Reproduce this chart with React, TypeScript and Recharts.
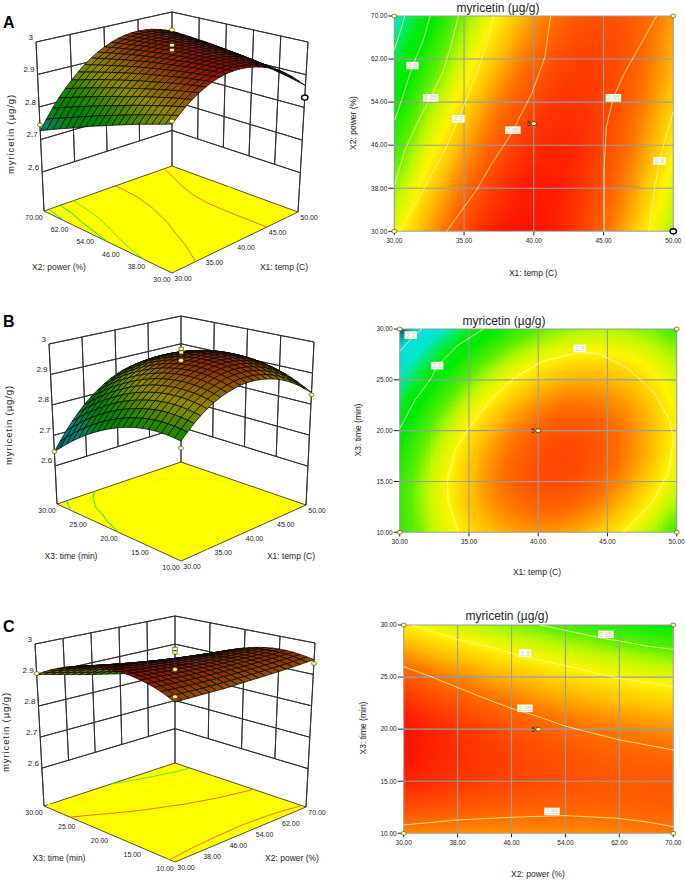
import React from 'react';
import { ScatterChart, Scatter, XAxis, YAxis } from 'recharts';

// ---------- values ----------
const tempTicks = [30, 35, 40, 45, 50];
const powerTicks = [30, 38, 46, 54, 62, 70];
const timeTicks = [10, 15, 20, 25, 30];
const responseTicks = [2.6, 2.7, 2.8, 2.9, 3];

// response estimated on a 9x9 lattice; rows run along the vertical factor, low to high
const gridTempPower = [
  [2.892, 2.934, 2.964, 2.981, 2.984, 2.974, 2.952, 2.916, 2.867],
  [2.875, 2.922, 2.955, 2.975, 2.982, 2.976, 2.957, 2.925, 2.880],
  [2.858, 2.908, 2.945, 2.969, 2.980, 2.977, 2.962, 2.933, 2.891],
  [2.839, 2.893, 2.933, 2.961, 2.975, 2.977, 2.965, 2.940, 2.902],
  [2.819, 2.876, 2.921, 2.952, 2.970, 2.975, 2.967, 2.945, 2.911],
  [2.798, 2.859, 2.907, 2.942, 2.963, 2.972, 2.967, 2.950, 2.919],
  [2.775, 2.840, 2.892, 2.930, 2.956, 2.968, 2.967, 2.953, 2.926],
  [2.752, 2.820, 2.875, 2.917, 2.946, 2.962, 2.965, 2.955, 2.931],
  [2.727, 2.799, 2.857, 2.903, 2.936, 2.956, 2.962, 2.955, 2.936],
];
const gridTempTime = [
  [2.829, 2.876, 2.910, 2.930, 2.938, 2.932, 2.914, 2.882, 2.837],
  [2.833, 2.883, 2.920, 2.943, 2.954, 2.951, 2.935, 2.906, 2.864],
  [2.830, 2.883, 2.922, 2.949, 2.962, 2.962, 2.949, 2.923, 2.884],
  [2.819, 2.874, 2.917, 2.946, 2.962, 2.965, 2.955, 2.932, 2.896],
  [2.800, 2.858, 2.904, 2.936, 2.955, 2.961, 2.954, 2.933, 2.900],
  [2.773, 2.835, 2.883, 2.918, 2.940, 2.949, 2.944, 2.927, 2.896],
  [2.739, 2.803, 2.854, 2.892, 2.917, 2.929, 2.927, 2.913, 2.885],
  [2.697, 2.764, 2.818, 2.859, 2.886, 2.901, 2.902, 2.891, 2.866],
  [2.647, 2.717, 2.774, 2.817, 2.848, 2.865, 2.870, 2.861, 2.839],
];
const gridPowerTime = [
  [2.942, 2.941, 2.940, 2.939, 2.940, 2.941, 2.942, 2.944, 2.947],
  [2.964, 2.961, 2.958, 2.956, 2.955, 2.954, 2.954, 2.955, 2.956],
  [2.978, 2.973, 2.969, 2.966, 2.963, 2.961, 2.959, 2.958, 2.958],
  [2.985, 2.978, 2.973, 2.968, 2.963, 2.960, 2.956, 2.954, 2.952],
  [2.984, 2.976, 2.969, 2.962, 2.956, 2.951, 2.946, 2.942, 2.938],
  [2.975, 2.966, 2.957, 2.949, 2.941, 2.934, 2.928, 2.922, 2.917],
  [2.959, 2.948, 2.938, 2.928, 2.919, 2.910, 2.902, 2.895, 2.889],
  [2.935, 2.922, 2.911, 2.899, 2.889, 2.879, 2.869, 2.860, 2.852],
  [2.903, 2.889, 2.876, 2.863, 2.851, 2.839, 2.828, 2.818, 2.808],
];

// contour traces: [horizontal factor, vertical factor]
const contoursTempPower = [
  { level: 2.75, pts: [[30.76, 70], [30.35, 66.5], [30, 63.7]] },
  { level: 2.8, pts: [[32.56, 70], [32.08, 65.5], [31.31, 60.8], [30.76, 56.3], [30.05, 50.7]] },
  { level: 2.85, pts: [[34.6, 70], [34.1, 64.9], [33.5, 59.7], [32.58, 54.8], [31.6, 49.8], [30.76, 45.1], [30.05, 38.9]] },
  { level: 2.9, pts: [[37.1, 70], [36.74, 65.5], [36, 60], [34.6, 50.9], [33.63, 45.1], [32.2, 38.3], [30.4, 30]] },
  { level: 2.95, pts: [[41.2, 70], [40.8, 62.4], [39.85, 55.6], [38.4, 48.2], [37, 42.6], [35.9, 37.7], [33.75, 30]] },
  { level: 2.95, pts: [[48.8, 70], [47.7, 64.9], [46.5, 59.4], [45.7, 54.8], [45.2, 49.4], [45.05, 42], [45.05, 30]] },
  { level: 2.9, pts: [[50, 52.2], [49.4, 47], [49, 43.1], [48.57, 36.4], [48.25, 30]] },
];
const contoursTempTime = [
  { level: 2.7, pts: [[31.6, 30], [30.8, 29], [30.02, 27.8]] },
  { level: 2.8, pts: [[36.04, 30], [34.2, 28.4], [32.74, 26.4], [32.2, 25], [31.1, 23], [30, 20.2]] },
  { level: 2.9, pts: [[34.24, 10], [33.5, 13.1], [33.44, 15.1], [34, 18.1], [34.96, 20.2], [36.4, 22.7], [38.09, 25], [40.25, 26.8], [42.97, 27.7], [44.34, 27.6], [46.5, 26.1], [48.4, 23.7], [49.5, 21], [49.76, 19.2], [49.4, 15.8], [48.2, 12.9], [46.15, 10]] },
];
const contoursPowerTime = [
  { level: 2.85, pts: [[50.2, 30], [53.9, 29.5], [60, 28.66], [61.8, 28.5], [65.8, 28], [70, 27.66]] },
  { level: 2.9, pts: [[31.2, 30], [38, 28.6], [43.5, 27.8], [48, 26.9], [53.9, 26.1], [61.8, 24.9], [70, 24.1]] },
  { level: 2.95, pts: [[30, 26], [34.2, 25], [38, 24], [42, 22.96], [46, 22], [50, 21.2], [53.9, 20.3], [61.8, 19], [70, 18]] },
  { level: 2.95, pts: [[30, 10.8], [38, 11.28], [46, 11.54], [53.9, 11.7], [61.8, 11.44], [65.8, 11.12], [70, 10.64]] },
];

const tagsTempPower = [
  { x: 31.3, y: 60.8, text: '2.8' }, { x: 32.6, y: 54.8, text: '2.85' }, { x: 34.6, y: 50.9, text: '2.9' },
  { x: 38.5, y: 48.8, text: '2.95' }, { x: 45.7, y: 54.8, text: '2.95' }, { x: 49, y: 43.1, text: '2.9' },
];
const tagsTempTime = [
  { x: 30.8, y: 29.4, text: '2.7' }, { x: 32.7, y: 26.4, text: '2.8' }, { x: 43, y: 28.1, text: '2.9' },
];
const tagsPowerTime = [
  { x: 60, y: 29.1, text: '2.85' }, { x: 48, y: 27.3, text: '2.9' }, { x: 48, y: 22, text: '2.95' }, { x: 52, y: 12.1, text: '2.95' },
];

// design points: horizontal factor, vertical factor, response seen on the 3D plot
const pointsTempPower = [
  { a: 30, b: 70, z: 2.745 }, { a: 50, b: 70, z: 2.94 }, { a: 30, b: 30, z: 2.9 }, { a: 50, b: 30, z: 2.83, open: true },
];
const pointsTempTime = [
  { a: 30, b: 30, z: 2.647 }, { a: 50, b: 30, z: 2.84 }, { a: 30, b: 10, z: 2.808 }, { a: 50, b: 10, z: 2.83 },
];
const pointsPowerTime = [
  { a: 30, b: 30, z: 2.905 }, { a: 70, b: 30, z: 2.81 }, { a: 30, b: 10, z: 2.957 }, { a: 70, b: 10, z: 2.935 },
];
const centerResponsesA = [3.0, 2.985];
const centerResponsesB = [2.992, 2.98];
const centerResponsesC = [2.992, 2.98];

// colour scale: response -> rgb
const scaleValues = [2.62, 2.65, 2.675, 2.69, 2.73, 2.76, 2.78, 2.81, 2.85, 2.875, 2.9, 2.925, 2.95, 2.97, 2.985];
const scaleColours = [
  [10, 60, 90], [15, 80, 100], [0, 190, 190], [0, 225, 220], [0, 230, 205], [0, 235, 100], [0, 235, 20], [0, 235, 0],
  [90, 238, 0], [190, 248, 0], [255, 245, 0], [255, 190, 0], [255, 110, 0], [255, 60, 0], [255, 15, 0],
];

// ---------- page geometry ----------
const W = 685;
const H = 880;
const FONT = '"Liberation Sans", Arial, sans-serif';

const lerp = (a: number, b: number, t: number) => a + (b - a) * t;

const rgbOf = (z: number) => {
  const n = scaleValues.length;
  if (z <= scaleValues[0]) return scaleColours[0];
  if (z >= scaleValues[n - 1]) return scaleColours[n - 1];
  let i = 0;
  while (z > scaleValues[i + 1]) i++;
  const t = (z - scaleValues[i]) / (scaleValues[i + 1] - scaleValues[i]);
  return scaleColours[i].map((c, k) => lerp(c, scaleColours[i + 1][k], t));
};
const cssOf = (c: number[], f = 1) => `rgb(${Math.round(c[0] * f)},${Math.round(c[1] * f)},${Math.round(c[2] * f)})`;

// smooth drawing between lattice values, the way a curved line joins its points
const spline = (p0: number, p1: number, p2: number, p3: number, t: number) =>
  0.5 * (2 * p1 + (p2 - p0) * t + (2 * p0 - 5 * p1 + 4 * p2 - p3) * t * t + (3 * p1 - p0 - 3 * p2 + p3) * t * t * t);
const along = (row: number[], s: number) => {
  const m = row.length - 1;
  const i = Math.min(Math.floor(s * m), m - 1);
  const t = s * m - i;
  const p1 = row[i];
  const p2 = row[i + 1];
  const p0 = i > 0 ? row[i - 1] : 2 * p1 - p2;
  const p3 = i + 2 <= m ? row[i + 2] : 2 * p2 - p1;
  return spline(p0, p1, p2, p3, t);
};
const sampleGrid = (g: number[][], u: number, v: number) => along(g.map((r) => along(r, u)), v);

type Corners = { F: number[]; L: number[]; R: number[]; B: number[] };
type Frame = { floor: Corners; top: Corners; zf: number };

const bilinear = (c: Corners, u: number, v: number) =>
  [0, 1].map((k) => (1 - u) * (1 - v) * c.F[k] + u * (1 - v) * c.R[k] + (1 - u) * v * c.L[k] + u * v * c.B[k]);
const project = (f: Frame, u: number, v: number, z: number) => {
  const a = bilinear(f.floor, u, v);
  const b = bilinear(f.top, u, v);
  const t = (z - f.zf) / (3 - f.zf);
  return [lerp(a[0], b[0], t), lerp(a[1], b[1], t)];
};

const PolyShape = (p: any) => {
  const { cx, cy, payload: d } = p;
  const pts = d.poly.map((q: number[]) => `${q[0] - d.x + cx},${q[1] - d.y + cy}`).join(' ');
  return <polygon points={pts} fill={d.fill || 'none'} stroke={d.stroke} strokeWidth={d.sw} strokeLinejoin="round" />;
};
const Nothing = () => <g />;
const Marker = (p: any) => (
  <ellipse cx={p.cx} cy={p.cy} rx={p.payload.open ? 3.2 : 2.5} ry={p.payload.open ? 2.6 : 2}
    fill={p.payload.open ? '#ffffff' : '#ffff88'} stroke={p.payload.open ? '#000' : '#333'} strokeWidth={p.payload.open ? 1.4 : 0.6} />
);
const SquareMark = (p: any) => (
  <rect x={p.cx - 2.2} y={p.cy - 1.6} width={4.4} height={3.2} fill="#ffff88" stroke="#333" strokeWidth={0.6} />
);

const anchored = (mk: { dx: number; dy: number; anchor: string; size: number; fill?: string }) => (p: any) => (
  <text x={p.cx + mk.dx} y={p.cy + mk.dy} textAnchor={mk.anchor} dominantBaseline="central"
    fontFamily={FONT} fontSize={mk.size} fill={mk.fill || '#222'}>{p.payload.text}</text>
);

type P3 = {
  frame: Frame; grid: number[][]; contours: { level: number; pts: number[][] }[];
  uDomain: number[]; vDomain: number[]; uTicks: number[]; vTicks: number[];
  points: { a: number; b: number; z: number; open?: boolean }[]; centers: number[];
  letter: string; letterY: number; uLabel: string; vLabel: string;
  uLabelX: number; vLabelX: number; labelY: number; zLabelX: number; zLabelY: number;
};

function Surface3D(c: P3) {
  const f = c.frame;
  const toU = (a: number) => (a - c.uDomain[0]) / (c.uDomain[1] - c.uDomain[0]);
  const toV = (b: number) => (b - c.vDomain[0]) / (c.vDomain[1] - c.vDomain[0]);
  const seg = (a: number[], b: number[], stroke = '#2e2e2e', sw = 0.95) => ({
    x: (a[0] + b[0]) / 2, y: (a[1] + b[1]) / 2, poly: [a, b], stroke, sw,
  });

  // back walls
  const walls: any[] = [];
  responseTicks.forEach((z) => {
    walls.push(seg(project(f, 0, 1, z), project(f, 1, 1, z)));
    walls.push(seg(project(f, 1, 1, z), project(f, 1, 0, z)));
  });
  c.uTicks.slice(1, -1).forEach((t) => walls.push(seg(project(f, toU(t), 1, 3), project(f, toU(t), 1, 2.6))));
  c.vTicks.slice(1, -1).forEach((t) => walls.push(seg(project(f, 1, toV(t), 3), project(f, 1, toV(t), 2.6))));
  [[0, 1], [1, 1], [1, 0]].forEach(([u, v]) => walls.push(seg(project(f, u, v, 3), project(f, u, v, f.zf))));

  // floor
  const fl = [f.floor.F, f.floor.R, f.floor.B, f.floor.L];
  const floor = [{ x: 172, y: 200, poly: fl, fill: '#ffff00', stroke: '#222', sw: 0.8 }];

  // surface, painted from the back corner forward
  const N = 20;
  const mesh: any[] = [];
  for (let i = 0; i < N; i++) {
    for (let j = 0; j < N; j++) {
      const u0 = i / N, u1 = (i + 1) / N, v0 = j / N, v1 = (j + 1) / N;
      const q = [[u0, v0], [u1, v0], [u1, v1], [u0, v1]].map(([u, v]) => project(f, u, v, sampleGrid(c.grid, u, v)));
      const zMid = sampleGrid(c.grid, (u0 + u1) / 2, (v0 + v1) / 2);
      const m = project(f, (u0 + u1) / 2, (v0 + v1) / 2, zMid);
      mesh.push({ x: m[0], y: m[1], poly: q, fill: cssOf(rgbOf(zMid), 0.56), stroke: '#080808', sw: 0.75, order: u0 + v0 });
    }
  }
  mesh.sort((a, b) => b.order - a.order);

  const uTickData = c.uTicks.map((t) => {
    const q = project(f, toU(t), 0, f.zf);
    return { x: q[0], y: q[1], text: t.toFixed(2) };
  });
  const vTickData = c.vTicks.map((t) => {
    const q = project(f, 0, toV(t), f.zf);
    return { x: q[0], y: q[1], text: t.toFixed(2) };
  });
  const zTickData = responseTicks.map((z) => {
    const q = project(f, 0, 1, z);
    return { x: q[0], y: q[1], text: String(z) };
  });
  const marks = c.points.map((d) => {
    const q = project(f, toU(d.a), toV(d.b), d.z);
    return { x: q[0], y: q[1], open: d.open };
  });
  const centres = c.centers.map((z) => {
    const q = project(f, 0.5, 0.5, z);
    return { x: q[0], y: q[1] };
  });

  return (
    <ScatterChart width={W} height={H} margin={{ top: 0, right: 0, bottom: 0, left: 0 }}>
      <XAxis type="number" dataKey="x" domain={[0, W]} hide />
      <YAxis type="number" dataKey="y" domain={[0, H]} reversed hide />
      <Scatter data={walls} shape={PolyShape} isAnimationActive={false} />
      <Scatter data={floor} shape={PolyShape} isAnimationActive={false} />
      {c.contours.map((l, i) => (
        <Scatter key={i} isAnimationActive={false} shape={Nothing}
          line={{ stroke: cssOf(rgbOf(l.level)), strokeWidth: 1 }}
          data={l.pts.map((q) => {
            const r = project(f, toU(q[0]), toV(q[1]), f.zf);
            return { x: r[0], y: r[1] };
          })} />
      ))}
      <Scatter data={mesh} shape={PolyShape} isAnimationActive={false} />
      <Scatter data={marks} shape={Marker} isAnimationActive={false} />
      <Scatter data={centres} shape={SquareMark} isAnimationActive={false} />
      <Scatter data={uTickData} isAnimationActive={false} shape={anchored({ dx: 11, dy: 5, anchor: 'middle', size: 7 })} />
      <Scatter data={vTickData} isAnimationActive={false} shape={anchored({ dx: -10, dy: 6, anchor: 'middle', size: 7 })} />
      <Scatter data={zTickData} isAnimationActive={false} shape={anchored({ dx: -3, dy: -5, anchor: 'end', size: 8 })} />
      <text x={3} y={c.letterY} fontFamily={FONT} fontWeight="bold" fontSize={16} fill="#000">{c.letter}</text>
      <text x={c.vLabelX} y={c.labelY} textAnchor="middle" dominantBaseline="central" fontFamily={FONT} fontSize={8.5} fill="#222">{c.vLabel}</text>
      <text x={c.uLabelX} y={c.labelY} textAnchor="middle" dominantBaseline="central" fontFamily={FONT} fontSize={8.5} fill="#222">{c.uLabel}</text>
      <text transform={`rotate(-90 ${c.zLabelX} ${c.zLabelY})`} x={c.zLabelX} y={c.zLabelY} textAnchor="middle" dominantBaseline="central"
        fontFamily={FONT} fontSize={9.5} letterSpacing={0.9} fill="#222">myricetin (µg/g)</text>
    </ScatterChart>
  );
}

type PH = {
  box: { left: number; right: number; top: number; bottom: number };
  grid: number[][]; contours: { level: number; pts: number[][] }[];
  xDomain: number[]; yDomain: number[]; xTicks: number[]; yTicks: number[];
  tags: { x: number; y: number; text: string }[];
  points: { a: number; b: number; open?: boolean }[];
  xLabel: string; yLabel: string; titleX: number; titleY: number;
  xLabelX: number; xLabelY: number; yLabelX: number; yLabelY: number; lineColour: string;
};

function Heat(c: PH) {
  const b = c.box;
  const cells = c.grid.length - 1;
  const S = 12;
  const dx = (c.xDomain[1] - c.xDomain[0]) / cells;
  const dy = (c.yDomain[1] - c.yDomain[0]) / cells;
  const cw = (b.right - b.left) / cells;
  const ch = (b.bottom - b.top) / cells;
  const data: any[] = [];
  for (let i = 0; i < cells; i++) for (let j = 0; j < cells; j++) {
    data.push({ x: c.xDomain[0] + (i + 0.5) * dx, y: c.yDomain[0] + (j + 0.5) * dy, i, j });
  }
  const CellShape = (p: any) => {
    const { i, j } = p.payload;
    const out: any[] = [];
    for (let s = 0; s < S; s++) for (let t = 0; t < S; t++) {
      const z = sampleGrid(c.grid, (i + (s + 0.5) / S) / cells, (j + 1 - (t + 0.5) / S) / cells);
      out.push(<rect key={`${s}-${t}`} x={p.cx - cw / 2 + (s * cw) / S} y={p.cy - ch / 2 + (t * ch) / S} shapeRendering="crispEdges"
        width={cw / S + (s < S - 1 || i < cells - 1 ? 0.7 : 0)} height={ch / S + (t < S - 1 || j > 0 ? 0.7 : 0)} fill={cssOf(rgbOf(z))} />);
    }
    return <g>{out}</g>;
  };
  const TagShape = (p: any) => {
    const w = p.payload.text.length > 3 ? 15.5 : 12.5;
    return (
      <g>
        <rect x={p.cx - w / 2} y={p.cy - 3.8} width={w} height={7.6} fill="#fffdf0" />
        <text x={p.cx} y={p.cy} textAnchor="middle" dominantBaseline="central" fontFamily={FONT} fontSize={6.5} fill="#d0d0c0">{p.payload.text}</text>
      </g>
    );
  };
  const CentreShape = (p: any) => (
    <g>
      <ellipse cx={p.cx} cy={p.cy} rx={2.7} ry={2} fill="#ffff88" stroke="#222" strokeWidth={0.7} />
      <text x={p.cx - 3.5} y={p.cy} textAnchor="end" dominantBaseline="central" fontFamily={FONT} fontSize={6.5} fill="#222">5</text>
    </g>
  );
  const tick = { fontSize: 6.5, fontFamily: FONT, fill: '#222' };
  const fmt = (v: number) => v.toFixed(2);
  const gridLine = { stroke: '#9c9c9c', strokeWidth: 1.1 };
  return (
    <ScatterChart width={W} height={H} margin={{ top: b.top, right: W - b.right, bottom: H - b.bottom - 20, left: b.left - 30 }}>
      <XAxis type="number" dataKey="x" domain={c.xDomain} ticks={c.xTicks} interval={0} height={20} tick={tick}
        tickFormatter={fmt} tickSize={4} tickMargin={3} axisLine={false} tickLine={{ stroke: '#222' }} />
      <YAxis type="number" dataKey="y" domain={c.yDomain} ticks={c.yTicks} interval={0} width={30} tick={tick}
        tickFormatter={fmt} tickSize={6} tickMargin={1} axisLine={false} tickLine={{ stroke: '#222' }} />
      <Scatter data={data} shape={CellShape} isAnimationActive={false} />
      {c.xTicks.map((t) => (
        <Scatter key={`x${t}`} isAnimationActive={false} shape={Nothing} line={gridLine}
          data={[{ x: t, y: c.yDomain[0] }, { x: t, y: c.yDomain[1] }]} />
      ))}
      {c.yTicks.map((t) => (
        <Scatter key={`y${t}`} isAnimationActive={false} shape={Nothing} line={gridLine}
          data={[{ x: c.xDomain[0], y: t }, { x: c.xDomain[1], y: t }]} />
      ))}
      {c.contours.map((l, i) => (
        <Scatter key={i} isAnimationActive={false} shape={Nothing}
          line={{ stroke: c.lineColour, strokeWidth: 0.8 }}
          data={l.pts.map((q) => ({ x: q[0], y: q[1] }))} />
      ))}
      <Scatter data={c.tags} shape={TagShape} isAnimationActive={false} />
      <Scatter data={c.points.map((d) => ({ x: d.a, y: d.b, open: d.open }))} shape={Marker} isAnimationActive={false} />
      <Scatter data={[{ x: (c.xDomain[0] + c.xDomain[1]) / 2, y: (c.yDomain[0] + c.yDomain[1]) / 2 }]} shape={CentreShape} isAnimationActive={false} />
      <text x={c.titleX} y={c.titleY} textAnchor="middle" dominantBaseline="central" fontFamily={FONT} fontSize={12} fill="#222">myricetin (µg/g)</text>
      <text x={c.xLabelX} y={c.xLabelY} textAnchor="middle" dominantBaseline="central" fontFamily={FONT} fontSize={8.5} fill="#222">{c.xLabel}</text>
      <text transform={`rotate(-90 ${c.yLabelX} ${c.yLabelY})`} x={c.yLabelX} y={c.yLabelY} textAnchor="middle" dominantBaseline="central" fontFamily={FONT} fontSize={8.5} fill="#222">{c.yLabel}</text>
    </ScatterChart>
  );
}

const layer: React.CSSProperties = { position: 'absolute', left: 0, top: 0, width: W, height: H };

export default function App() {
  return (
    <div style={{ position: 'absolute', left: 0, top: 0, width: W, height: H, background: '#fff', overflow: 'hidden' }}>
      <div style={layer}>
        <Surface3D
          frame={{ floor: { F: [172, 273], L: [44, 211], R: [298, 212], B: [172, 166] }, top: { F: [172, 85], L: [36, 42], R: [308, 42], B: [172, 12] }, zf: 2.48 }}
          grid={gridTempPower} contours={contoursTempPower} uDomain={[30, 50]} vDomain={[30, 70]} uTicks={tempTicks} vTicks={powerTicks}
          points={pointsTempPower} centers={centerResponsesA} letter="A" letterY={28} uLabel="X1: temp (C)" vLabel="X2: power (%)"
          uLabelX={284} vLabelX={59} labelY={267} zLabelX={10} zLabelY={134} />
      </div>
      <div style={layer}>
        <Surface3D
          frame={{ floor: { F: [181, 561], L: [57, 504], R: [306, 505], B: [181, 462] }, top: { F: [181, 383], L: [49, 344], R: [314, 342], B: [181, 316] }, zf: 2.475 }}
          grid={gridTempTime} contours={contoursTempTime} uDomain={[30, 50]} vDomain={[10, 30]} uTicks={tempTicks} vTicks={timeTicks}
          points={pointsTempTime} centers={centerResponsesB} letter="B" letterY={327} uLabel="X1: temp (C)" vLabel="X3: time (min)"
          uLabelX={291} vLabelX={71} labelY={556} zLabelX={8} zLabelY={425} />
      </div>
      <div style={layer}>
        <Surface3D
          frame={{ floor: { F: [175, 862], L: [44, 806], R: [306, 807], B: [175, 763] }, top: { F: [175, 682], L: [35, 644], R: [315, 643], B: [175, 616] }, zf: 2.478 }}
          grid={gridPowerTime} contours={contoursPowerTime} uDomain={[30, 70]} vDomain={[10, 30]} uTicks={powerTicks} vTicks={timeTicks}
          points={pointsPowerTime} centers={centerResponsesC} letter="C" letterY={632} uLabel="X2: power (%)" vLabel="X3: time (min)"
          uLabelX={292} vLabelX={59} labelY={858} zLabelX={5} zLabelY={732} />
      </div>
      <div style={layer}>
        <Heat box={{ left: 394.3, right: 673.3, top: 16, bottom: 231.3 }} grid={gridTempPower} contours={contoursTempPower}
          xDomain={[30, 50]} yDomain={[30, 70]} xTicks={tempTicks} yTicks={powerTicks} tags={tagsTempPower} lineColour="#fff7a0"
          points={[{ a: 30, b: 70 }, { a: 50, b: 70 }, { a: 30, b: 30 }, { a: 50, b: 30, open: true }]}
          xLabel="X1: temp (C)" yLabel="X2: power (%)" titleX={498} titleY={8} xLabelX={533} xLabelY={273} yLabelX={353} yLabelY={123} />
      </div>
      <div style={layer}>
        <Heat box={{ left: 399.7, right: 676.7, top: 329, bottom: 532.3 }} grid={gridTempTime} contours={contoursTempTime}
          xDomain={[30, 50]} yDomain={[10, 30]} xTicks={tempTicks} yTicks={timeTicks} tags={tagsTempTime} lineColour="#ffffc8"
          points={[{ a: 30, b: 30 }, { a: 50, b: 30 }, { a: 30, b: 10 }, { a: 50, b: 10 }]}
          xLabel="X1: temp (C)" yLabel="X3: time (min)" titleX={504} titleY={320.5} xLabelX={537} xLabelY={572} yLabelX={358} yLabelY={430} />
      </div>
      <div style={layer}>
        <Heat box={{ left: 403.7, right: 673.3, top: 625, bottom: 833.3 }} grid={gridPowerTime} contours={contoursPowerTime}
          xDomain={[30, 70]} yDomain={[10, 30]} xTicks={powerTicks} yTicks={timeTicks} tags={tagsPowerTime} lineColour="#fff7a0"
          points={[{ a: 30, b: 30 }, { a: 70, b: 30 }, { a: 30, b: 10 }, { a: 70, b: 10 }]}
          xLabel="X2: power (%)" yLabel="X3: time (min)" titleX={507} titleY={616} xLabelX={538} xLabelY={874} yLabelX={363} yLabelY={728} />
      </div>
    </div>
  );
}
